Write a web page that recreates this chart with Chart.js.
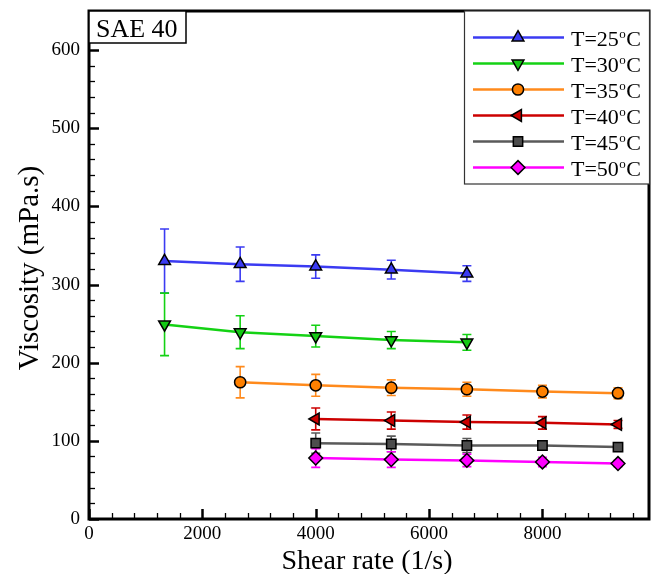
<!DOCTYPE html>
<html>
<head>
<meta charset="utf-8">
<script src="https://cdn.jsdelivr.net/npm/chart.js@4.4.0/dist/chart.umd.min.js"></script>
<style>
  html, body { margin: 0; padding: 0; background: #fff; }
  #wrap { width: 652px; height: 574px; }
</style>
</head>
<body>
<div id="wrap"><canvas id="viscChart" width="652" height="574"></canvas></div>
<script>
// shear rates (1/s) at which viscosity was measured
const shearRate = [1333, 2667, 4000, 5333, 6667, 8000, 9333];

// viscosity (mPa.s) per temperature, null where not measured
const visc25 = [330, 326, 323, 319, 314, null, null];
const visc30 = [249, 239, 234, 229, 226, null, null];
const visc35 = [null, 175, 171, 168, 166, 163, 161];
const visc40 = [null, null, 128, 126, 124, 123, 121];
const visc45 = [null, null, 97, 96, 94, 94, 92];
const visc50 = [null, null, 78, 76, 75, 73, 71];

// standard deviation (half error bar), mPa.s
const err25 = [41, 22, 15, 12, 10, null, null];
const err30 = [40, 21, 14, 11, 10, null, null];
const err35 = [null, 20, 14, 10, 9, 8, 7];
const err40 = [null, null, 14, 11, 9, 8, 5];
const err45 = [null, null, 13, 10, 9, 6, 4];
const err50 = [null, null, 12, 10, 8, 6, 4];

const temps = ['25', '30', '35', '40', '45', '50'];
const xTicks = [0, 2000, 4000, 6000, 8000];
const yTicks = [0, 100, 200, 300, 400, 500, 600];

const SERIF = "'Liberation Serif', 'Times New Roman', serif";

const styles = [
    { color: '#3b3bf2', fill: '#3b3bf2', shape: 'triangle', rot: 0, r: 6.8 },
    { color: '#14d214', fill: '#14c814', shape: 'triangle', rot: 180, r: 6.8 },
    { color: '#ff8a1c', fill: '#ff8000', shape: 'circle', rot: 0, r: 5.6 },
    { color: '#cc0000', fill: '#cc0000', shape: 'triangle', rot: 270, r: 6.8 },
    { color: '#5a5a5a', fill: '#4d4d4d', shape: 'rect', rot: 0, r: 6.6 },
    { color: '#ff00ff', fill: '#ff00ff', shape: 'rectRot', rot: 0, r: 6.9 }
];

function buildPoints(vals, errs) {
    const pts = [];
    vals.forEach((v, i) => {
        if (v !== null) pts.push({ x: shearRate[i], y: v, err: errs[i] });
    });
    return pts;
}

const seriesVals = [visc25, visc30, visc35, visc40, visc45, visc50];
const seriesErrs = [err25, err30, err35, err40, err45, err50];

const datasets = seriesVals.map((vals, i) => ({
    label: 'T=' + temps[i] + '°C',
    data: buildPoints(vals, seriesErrs[i]),
    borderColor: styles[i].color,
    backgroundColor: styles[i].fill,
    borderWidth: 2.5,
    tension: 0,
    pointStyle: styles[i].shape,
    rotation: styles[i].rot,
    pointRadius: styles[i].r,
    pointBorderColor: '#000',
    pointBorderWidth: 1.5,
    pointBackgroundColor: styles[i].fill
}));

// draws a marker with the same shape chart.js uses for the points
function marker(ctx, st, x, y) {
    ctx.save();
    ctx.fillStyle = st.fill;
    ctx.strokeStyle = '#000';
    ctx.lineWidth = 1.5;
    Chart.helpers.drawPoint(ctx, { pointStyle: st.shape, rotation: st.rot, radius: st.r, borderWidth: 1.5 }, x, y);
    ctx.restore();
}

const decorations = {
    id: 'decorations',
    beforeDatasetsDraw(chart) {
        // error bars go underneath lines and markers
        const { ctx, scales: { x, y } } = chart;
        ctx.save();
        chart.data.datasets.forEach(ds => {
            ctx.strokeStyle = ds.borderColor;
            ctx.lineWidth = 1.6;
            ds.data.forEach(p => {
                const px = x.getPixelForValue(p.x);
                const top = y.getPixelForValue(p.y + p.err);
                const bot = y.getPixelForValue(p.y - p.err);
                ctx.beginPath();
                ctx.moveTo(px, top); ctx.lineTo(px, bot);
                ctx.moveTo(px - 4.5, top); ctx.lineTo(px + 4.5, top);
                ctx.moveTo(px - 4.5, bot); ctx.lineTo(px + 4.5, bot);
                ctx.stroke();
            });
        });
        ctx.restore();
    },
    afterDraw(chart) {
        const { ctx, chartArea: a, scales: { x, y } } = chart;
        ctx.save();

        // inward ticks, left and bottom only
        ctx.strokeStyle = '#000';
        for (let v = 0; v <= 640; v += 20) {
            const py = Math.round(y.getPixelForValue(v)) + 0.5;
            const major = v % 100 === 0;
            ctx.lineWidth = major ? 2.5 : 1.3;
            ctx.beginPath();
            ctx.moveTo(a.left, py); ctx.lineTo(a.left + (major ? 10 : 6), py);
            ctx.stroke();
        }
        for (let v = 0; v <= 9800; v += 400) {
            const px = Math.round(x.getPixelForValue(v)) + 0.5;
            const major = v % 2000 === 0;
            ctx.lineWidth = major ? 2.5 : 1.3;
            ctx.beginPath();
            ctx.moveTo(px, a.bottom); ctx.lineTo(px, a.bottom - (major ? 10 : 6));
            ctx.stroke();
        }

        // frame
        ctx.lineWidth = 3;
        ctx.strokeRect(a.left, a.top, a.right - a.left, a.bottom - a.top);

        // oil grade tag
        ctx.fillStyle = '#fff';
        ctx.fillRect(a.left, a.top, 97, 32);
        ctx.lineWidth = 1.5;
        ctx.strokeRect(a.left, a.top, 97, 32);
        ctx.fillStyle = '#000';
        ctx.font = '26px ' + SERIF;
        ctx.textBaseline = 'alphabetic';
        ctx.fillText('SAE 40', a.left + 7, a.top + 26);

        // legend box
        const lx = 464, ly = a.top, lw = a.right - lx, lh = 173;
        ctx.fillStyle = '#fff';
        ctx.fillRect(lx, ly, lw, lh);
        ctx.strokeStyle = '#333';
        ctx.lineWidth = 1.2;
        ctx.strokeRect(lx + 0.5, ly, lw, lh);
        chart.data.datasets.forEach((ds, i) => {
            const cy = 37.5 + i * 26;
            ctx.strokeStyle = ds.borderColor;
            ctx.lineWidth = 2.5;
            ctx.beginPath();
            ctx.moveTo(473, cy); ctx.lineTo(564, cy);
            ctx.stroke();
            marker(ctx, styles[i], 518, cy);
            // T=xx°C with a raised small o
            ctx.fillStyle = '#000';
            ctx.font = '22px ' + SERIF;
            let tx = 571;
            const base = cy + 8;
            const head = 'T=' + temps[i];
            ctx.fillText(head, tx, base);
            tx += ctx.measureText(head).width + 0.5;
            ctx.font = '13px ' + SERIF;
            ctx.fillText('o', tx, base - 8);
            tx += ctx.measureText('o').width + 0.5;
            ctx.font = '22px ' + SERIF;
            ctx.fillText('C', tx, base);
        });

        // axis titles
        ctx.fillStyle = '#000';
        ctx.font = '28px ' + SERIF;
        ctx.textAlign = 'center';
        ctx.textBaseline = 'middle';
        ctx.fillText('Shear rate (1/s)', (a.left + a.right) / 2 - 2, 562);
        ctx.font = '29px ' + SERIF;
        ctx.translate(30, (a.top + a.bottom) / 2 + 3);
        ctx.rotate(-Math.PI / 2);
        ctx.fillText('Viscosity (mPa.s)', 0, 0);
        ctx.restore();
    }
};

new Chart(document.getElementById('viscChart'), {
    type: 'line',
    data: { datasets },
    options: {
        responsive: false,
        animation: false,
        devicePixelRatio: 1,
        layout: { autoPadding: false, padding: { top: 11, right: 3, left: 0, bottom: 0 } },
        plugins: { legend: { display: false }, tooltip: { enabled: false } },
        scales: {
            x: {
                type: 'linear',
                min: 0,
                max: 9880,
                afterBuildTicks: s => { s.ticks = xTicks.map(v => ({ value: v })); },
                afterFit: s => { s.height = 55; s.paddingLeft = 0; s.paddingRight = 0; },
                ticks: { color: '#000', font: { family: SERIF, size: 19 }, padding: 4, maxRotation: 0, callback: v => String(v) },
                grid: { display: false, drawTicks: false },
                border: { display: false }
            },
            y: {
                type: 'linear',
                min: 0,
                max: 650,
                afterBuildTicks: s => { s.ticks = yTicks.map(v => ({ value: v })); },
                afterFit: s => { s.width = 89; s.paddingTop = 0; s.paddingBottom = 0; },
                ticks: { color: '#000', font: { family: SERIF, size: 19 }, padding: 9, callback: v => String(v) },
                grid: { display: false, drawTicks: false },
                border: { display: false }
            }
        }
    },
    plugins: [decorations]
});
</script>
</body>
</html>
